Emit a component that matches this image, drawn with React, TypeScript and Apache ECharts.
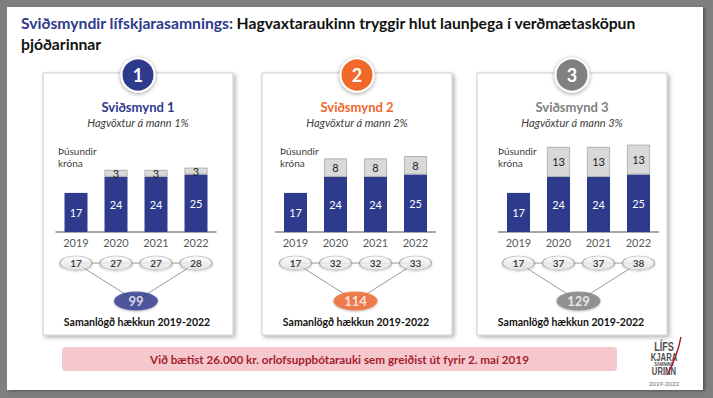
import React, { useEffect, useRef } from 'react';
import * as echarts from 'echarts';

// ---------- data ----------
const years = ['2019', '2020', '2021', '2022'];
const baseValues1 = [17, 24, 24, 25];
const baseValues2 = [17, 24, 24, 25];
const baseValues3 = [17, 24, 24, 25];
const increase1: (number | null)[] = [null, 3, 3, 3];
const increase2: (number | null)[] = [null, 8, 8, 8];
const increase3: (number | null)[] = [null, 13, 13, 13];
const scenarioNames = ['Sviðsmynd 1', 'Sviðsmynd 2', 'Sviðsmynd 3'];
const growthLabels = ['Hagvöxtur á mann 1%', 'Hagvöxtur á mann 2%', 'Hagvöxtur á mann 3%'];
const scenarioNumbers = ['1', '2', '3'];
const titleBlue = 'Sviðsmyndir lífskjarasamnings:';
const titleBlack = 'Hagvaxtaraukinn tryggir hlut launþega í verðmætasköpun';
const titleLine2 = 'þjóðarinnar';
const unitLines = ['Þúsundir', 'króna'];
const sumLabel = 'Samanlögð hækkun 2019-2022';
const bannerText = 'Við bætist 26.000 kr. orlofsuppbótarauki sem greiðist út fyrir 2. maí 2019';
const logoLines = ['LÍFS', 'KJARA', 'SAMNING', 'URINN'];
const logoYears = '2019-2022';

const baseAll = [baseValues1, baseValues2, baseValues3];
const incAll = [increase1, increase2, increase3];

// ---------- style / layout ----------
const COLORS = ['#2e3a8c', '#f0672a', '#808080'];
const NAVY = '#2e3a8c';
const FF = 'Lato, "Liberation Sans", sans-serif';
const PANEL_LEFT = [43, 262, 477];
const PANEL_W = 190;
const PANEL_TOP = 73;
const PANEL_H = 262;
const GRID_LEFT = [56, 275.5, 498.5];
const UNIT_X = [58, 280, 498];
const GRID_W = 160;
const BAR_TOP = 140;
const BAR_H = 92; // 0..40
const ROW_TOP = 232;
const ROW_H = 92; // -40..0
const ROW_Y = -13.5;
const SUM_Y = -30;

function centerText(x: number, y: number, text: string, extra: any, z = 6) {
  return {
    type: 'text', z, x, y,
    style: Object.assign({ text, fontFamily: FF, align: 'center', textAlign: 'center', verticalAlign: 'middle', textVerticalAlign: 'middle' }, extra),
  };
}

function buildOption() {
  const grid: any[] = [];
  const xAxis: any[] = [];
  const yAxis: any[] = [];
  const series: any[] = [];
  const graphic: any[] = [];

  graphic.push({
    type: 'rect', z: -20,
    shape: { x: 7, y: 7, width: 696, height: 383 },
    style: { fill: '#ffffff', shadowColor: 'rgba(0,0,0,0.35)', shadowBlur: 3, shadowOffsetX: 2, shadowOffsetY: 1 },
  });
  graphic.push({
    type: 'text', z: 10, x: 21, y: 23,
    style: {
      text: '{a|' + titleBlue + '} {b|' + titleBlack + '}',
      verticalAlign: 'middle', textVerticalAlign: 'middle',
      rich: {
        a: { fill: NAVY, color: NAVY, fontSize: 15.7, fontWeight: 'bold', fontFamily: FF },
        b: { fill: '#111', color: '#111', fontSize: 15.7, fontWeight: 'bold', fontFamily: FF },
      },
    },
  });
  graphic.push({
    type: 'text', z: 10, x: 21, y: 44,
    style: { text: titleLine2, fill: '#111', fontSize: 15.7, fontWeight: 'bold', fontFamily: FF, verticalAlign: 'middle', textVerticalAlign: 'middle' },
  });

  for (let i = 0; i < 3; i++) {
    const pl = PANEL_LEFT[i];
    const cx = pl + PANEL_W / 2;
    const col = COLORS[i];
    graphic.push({
      type: 'rect', z: -10,
      shape: { x: pl, y: PANEL_TOP, width: PANEL_W, height: PANEL_H },
      style: { fill: '#ffffff', stroke: '#cccccc', lineWidth: 1, shadowColor: 'rgba(0,0,0,0.3)', shadowBlur: 4, shadowOffsetX: 2, shadowOffsetY: 2 },
    });
    graphic.push({
      type: 'circle', z: 5,
      shape: { cx: cx, cy: 75, r: 16.5 },
      style: { fill: col, stroke: '#ffffff', lineWidth: 2, shadowColor: 'rgba(0,0,0,0.4)', shadowBlur: 4, shadowOffsetY: 1 },
    });
    graphic.push(centerText(cx, 75, scenarioNumbers[i], { fill: '#fff', fontSize: 18, fontWeight: 'bold' }));
    graphic.push(centerText(cx, 107, scenarioNames[i], { fill: col, fontSize: 13, fontWeight: 'bold' }));
    graphic.push(centerText(cx, 122, growthLabels[i], { fill: '#404040', fontSize: 11, fontStyle: 'italic' }));
    unitLines.forEach((t, k) => {
      graphic.push({
        type: 'text', z: 6, x: UNIT_X[i], y: 151 + k * 12,
        style: { text: t, fill: '#404040', fontSize: 10, fontFamily: FF, verticalAlign: 'middle', textVerticalAlign: 'middle' },
      });
    });
    graphic.push(centerText(cx - 1, 322, sumLabel, { fill: '#111', fontSize: 10.5, fontWeight: 'bold' }));

    // bar grid
    grid.push({ left: GRID_LEFT[i], top: BAR_TOP, width: GRID_W, height: BAR_H, containLabel: false, outerBoundsMode: 'none' });
    // ellipse grid
    grid.push({ left: GRID_LEFT[i], top: ROW_TOP, width: GRID_W, height: ROW_H, containLabel: false, outerBoundsMode: 'none' });

    xAxis.push({
      type: 'category', gridIndex: 2 * i, data: years, position: 'bottom',
      axisLine: { show: true, onZero: false, lineStyle: { color: '#8c8c8c', width: 1.5 } },
      axisTick: { show: false },
      axisLabel: { color: '#595959', fontSize: 11, fontFamily: FF, margin: 5 },
      splitLine: { show: false },
    });
    xAxis.push({ type: 'value', gridIndex: 2 * i + 1, min: -0.5, max: 3.5, show: false, splitLine: { show: false } });
    yAxis.push({ type: 'value', gridIndex: 2 * i, min: 0, max: 40, show: false, splitLine: { show: false } });
    yAxis.push({ type: 'value', gridIndex: 2 * i + 1, min: -40, max: 0, show: false, splitLine: { show: false } });

    const base = baseAll[i];
    const inc = incAll[i];
    const totals = base.map((b, j) => b + (inc[j] || 0));
    const grand = totals.reduce((a, b) => a + b, 0);

    series.push({
      type: 'bar', name: 'base' + i, stack: 's' + i, xAxisIndex: 2 * i, yAxisIndex: 2 * i,
      data: base, barWidth: 23, z: 3,
      itemStyle: { color: NAVY },
      label: { show: true, position: 'inside', color: '#fff', fontSize: 11, fontFamily: FF },
    });
    series.push({
      type: 'bar', name: 'inc' + i, stack: 's' + i, xAxisIndex: 2 * i, yAxisIndex: 2 * i,
      data: inc, barWidth: 23, z: 3,
      itemStyle: { color: '#d9d9d9', borderColor: '#a6a6a6', borderWidth: 0.8 },
      label: { show: true, position: 'inside', color: '#222', fontSize: 11, fontFamily: FF },
    });
    series.push({
      type: 'line', xAxisIndex: 2 * i + 1, yAxisIndex: 2 * i + 1, z: 1, symbol: 'none', silent: true,
      data: [[0, ROW_Y], [3, ROW_Y]],
      lineStyle: { color: '#9a9a9a', width: 1 },
    });
    series.push({
      type: 'line', xAxisIndex: 2 * i + 1, yAxisIndex: 2 * i + 1, z: 1, symbol: 'none', silent: true,
      data: [[0, ROW_Y], [1.5, SUM_Y], [3, ROW_Y]],
      lineStyle: { color: '#9a9a9a', width: 1 },
    });
    series.push({
      type: 'scatter', xAxisIndex: 2 * i + 1, yAxisIndex: 2 * i + 1, z: 4,
      symbol: 'circle', symbolSize: [32, 14],
      data: totals.map((t, j) => [j, ROW_Y, t]),
      itemStyle: {
        color: new echarts.graphic.LinearGradient(0, 0, 0, 1, [
          { offset: 0, color: '#ffffff' }, { offset: 1, color: '#e4e4e4' },
        ]),
        borderColor: '#9a9a9a', borderWidth: 0.8,
        shadowColor: 'rgba(0,0,0,0.25)', shadowBlur: 2, shadowOffsetY: 1,
      },
      label: { show: true, position: 'inside', formatter: (p: any) => String(p.value[2]), color: '#111', fontSize: 10, fontWeight: 'bold', fontFamily: FF },
    });
    series.push({
      type: 'scatter', xAxisIndex: 2 * i + 1, yAxisIndex: 2 * i + 1, z: 4,
      symbol: 'circle', symbolSize: [44, 19],
      data: [[1.5, SUM_Y, grand]],
      itemStyle: { color: col, shadowColor: 'rgba(0,0,0,0.3)', shadowBlur: 2, shadowOffsetY: 1 },
      label: { show: true, position: 'inside', formatter: (p: any) => String(p.value[2]), color: '#fff', fontSize: 13, fontWeight: 'bold', fontFamily: FF },
    });
  }

  // banner
  graphic.push({
    type: 'rect', z: 0,
    shape: { x: 62, y: 347, width: 555, height: 24, r: 4 },
    style: { fill: '#f5c8cd' },
  });
  graphic.push(centerText(339.5, 359, bannerText, { fill: '#a51c30', fontSize: 11.7, fontWeight: 'bold' }, 1));

  // logo
  const logoY = [346, 357, 364, 371];
  const logoSize = [13, 11, 6, 11];
  logoLines.forEach((t, k) => {
    graphic.push({
      type: 'text', z: 1, x: 664, y: logoY[k], scaleX: 0.7,
      style: { text: t, fill: '#4d4d4d', fontSize: logoSize[k], fontWeight: 'bold', fontFamily: '"Liberation Sans", sans-serif', align: 'center', textAlign: 'center', verticalAlign: 'middle', textVerticalAlign: 'middle' },
    });
  });
  graphic.push(centerText(664, 383, logoYears, { fill: '#666', fontSize: 6 }, 1));
  graphic.push({
    type: 'bezierCurve', z: 2,
    shape: { x1: 681, y1: 337, x2: 667, y2: 375, cpx1: 678, cpy1: 352, cpx2: 672, cpy2: 366 },
    style: { stroke: '#b5172f', lineWidth: 1.4, fill: 'none' },
  });

  return {
    animation: false,
    backgroundColor: '#7f7f7f',
    grid, xAxis, yAxis, series, graphic,
  };
}

export default function App() {
  const ref = useRef<HTMLDivElement>(null);
  useEffect(() => {
    if (!ref.current) return;
    const chart = echarts.init(ref.current, undefined, { renderer: 'svg' });
    chart.setOption(buildOption() as any);
    return () => chart.dispose();
  }, []);
  return <div ref={ref} style={{ position: 'fixed', left: 0, top: 0, width: 713, height: 398 }} />;
}
